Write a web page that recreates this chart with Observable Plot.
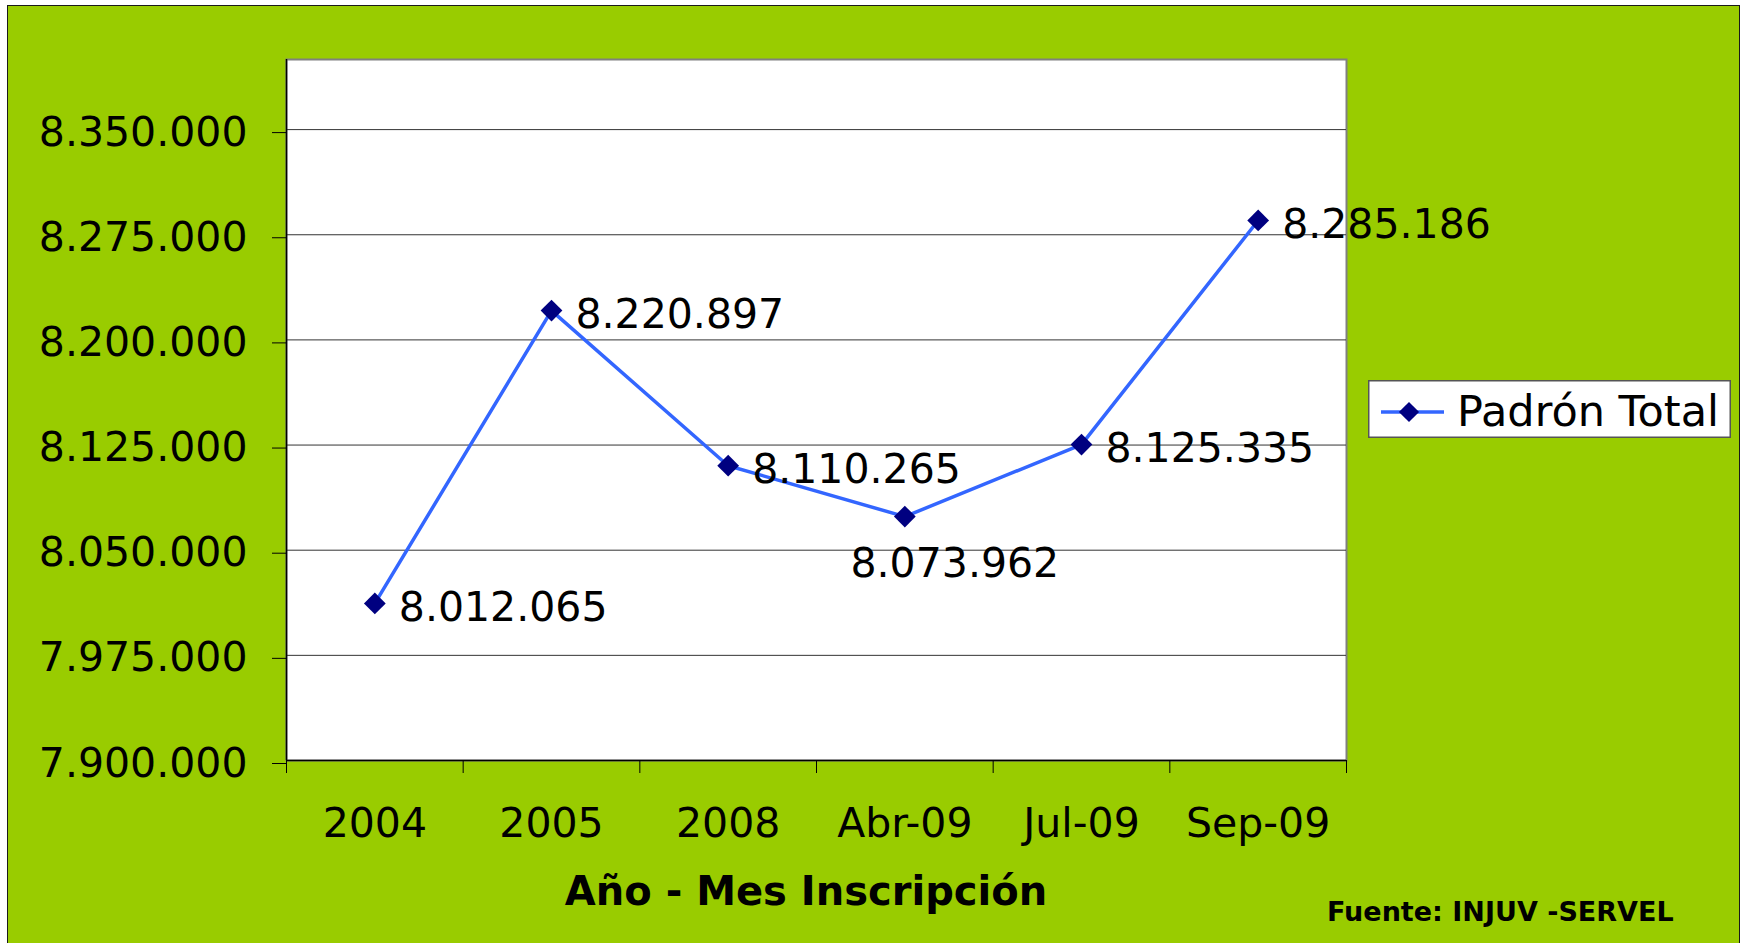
<!DOCTYPE html>
<html>
<head>
<meta charset="utf-8">
<script src="https://cdn.jsdelivr.net/npm/d3@7"></script>
<script src="https://cdn.jsdelivr.net/npm/@observablehq/plot@0.6"></script>
<style>
  html, body { margin: 0; padding: 0; background: #ffffff; overflow: hidden; }
  #wrap { position: relative; width: 1743px; height: 943px; overflow: hidden; font-family: "DejaVu Sans", sans-serif; }
  #panel { position: absolute; left: 7px; top: 5px; width: 1733px; height: 960px; box-sizing: border-box;
           background: #99CC00; border: 1.5px solid #1a1a1a; }
  #chart { position: absolute; left: 0; top: 0; }
  #legend { position: absolute; left: 1368px; top: 380px; }
  #xtitle { position: absolute; left: 406px; width: 800px; top: 871px; text-align: center;
            font: bold 40px/40px "DejaVu Sans", sans-serif; color: #000; white-space: nowrap; }
  #source { position: absolute; left: 1327px; top: 898px; font: bold 27px/27px "DejaVu Sans", sans-serif;
            color: #000; white-space: nowrap; }
</style>
</head>
<body>
<div id="wrap">
  <div id="panel"></div>
  <div id="chart"></div>
  <div id="legend"></div>
  <div id="xtitle"></div>
  <div id="source"></div>
</div>
<script>
// ---- data ----
const categories = ["2004", "2005", "2008", "Abr-09", "Jul-09", "Sep-09"];
const padronTotal = [8012065, 8220897, 8110265, 8073962, 8125335, 8285186];
const yTicks = [7900000, 7975000, 8050000, 8125000, 8200000, 8275000, 8350000];
const yDomain = [7900000, 8400000];
const seriesName = "Padrón Total";
const xTitle = "Año - Mes Inscripción";
const sourceText = "Fuente: INJUV -SERVEL";

const lineColor = "#3366FF";
const markerColor = "#000080";

const data = categories.map((c, i) => ({i, c, v: padronTotal[i]}));
const locale = d3.formatLocale({decimal: ",", thousands: ".", grouping: [3], currency: ["$", ""]});
const fmt = locale.format(",d");

const boundaries = d3.range(categories.length + 1).map(k => k - 0.5);

const chart = Plot.plot({
  width: 1743,
  height: 943,
  marginLeft: 286,
  marginRight: 397,
  marginTop: 59,
  marginBottom: 183,
  style: {background: "transparent", fontFamily: "DejaVu Sans", fontSize: "41px", color: "#000", overflow: "visible"},
  x: {domain: [-0.5, categories.length - 0.5]},
  y: {domain: yDomain},
  marks: [
    Plot.frame({fill: "white", stroke: "#808080", strokeWidth: 2}),
    Plot.gridY(yTicks.slice(1), {stroke: "#333333", strokeOpacity: 1, strokeWidth: 1}),
    Plot.axisY(yTicks, {tickSize: 14, tickPadding: 25, tickFormat: fmt, label: null, stroke: "#000", fontSize: 41, dy: 3}),
    Plot.axisX(boundaries, {tickSize: 13, tickFormat: () => "", label: null, stroke: "#000"}),
    Plot.axisX(d3.range(categories.length), {tickSize: 0, tickPadding: 47, tickFormat: i => categories[i], label: null, fontSize: 41}),
    Plot.ruleX([-0.5], {stroke: "#000", strokeWidth: 1.5}),
    Plot.ruleY([yDomain[0]], {stroke: "#000", strokeWidth: 1.5}),
    Plot.line(data, {x: "i", y: "v", stroke: lineColor, strokeWidth: 3.5}),
    Plot.dot(data, {x: "i", y: "v", symbol: "diamond2", r: 9.8, fill: markerColor, stroke: null}),
    Plot.text(data.filter(d => d.c !== "Abr-09"), {x: "i", y: "v", text: d => fmt(d.v), textAnchor: "start", dx: 24, dy: 4, fontSize: 41, fill: "#000"}),
    Plot.text(data.filter(d => d.c === "Abr-09"), {x: "i", y: "v", text: d => fmt(d.v), textAnchor: "middle", dx: 50, dy: 47, fontSize: 41, fill: "#000"})
  ]
});
document.getElementById("chart").appendChild(chart);

// ---- legend ----
const lg = d3.select("#legend").append("svg").attr("width", 363).attr("height", 58);
lg.append("rect").attr("x", 0.75).attr("y", 0.75).attr("width", 361.5).attr("height", 56.5)
  .attr("fill", "#fff").attr("stroke", "#555").attr("stroke-width", 1.5);
lg.append("line").attr("x1", 13).attr("x2", 76).attr("y1", 32).attr("y2", 32)
  .attr("stroke", lineColor).attr("stroke-width", 3.5);
lg.append("path").attr("d", d3.symbol(d3.symbolDiamond2, 260)()).attr("transform", "translate(41,32)")
  .attr("fill", markerColor);
lg.append("text").attr("x", 89).attr("y", 46).attr("font-family", "DejaVu Sans").attr("font-size", 43)
  .attr("fill", "#000").text(seriesName);

document.getElementById("xtitle").textContent = xTitle;
document.getElementById("source").textContent = sourceText;
</script>
</body>
</html>
